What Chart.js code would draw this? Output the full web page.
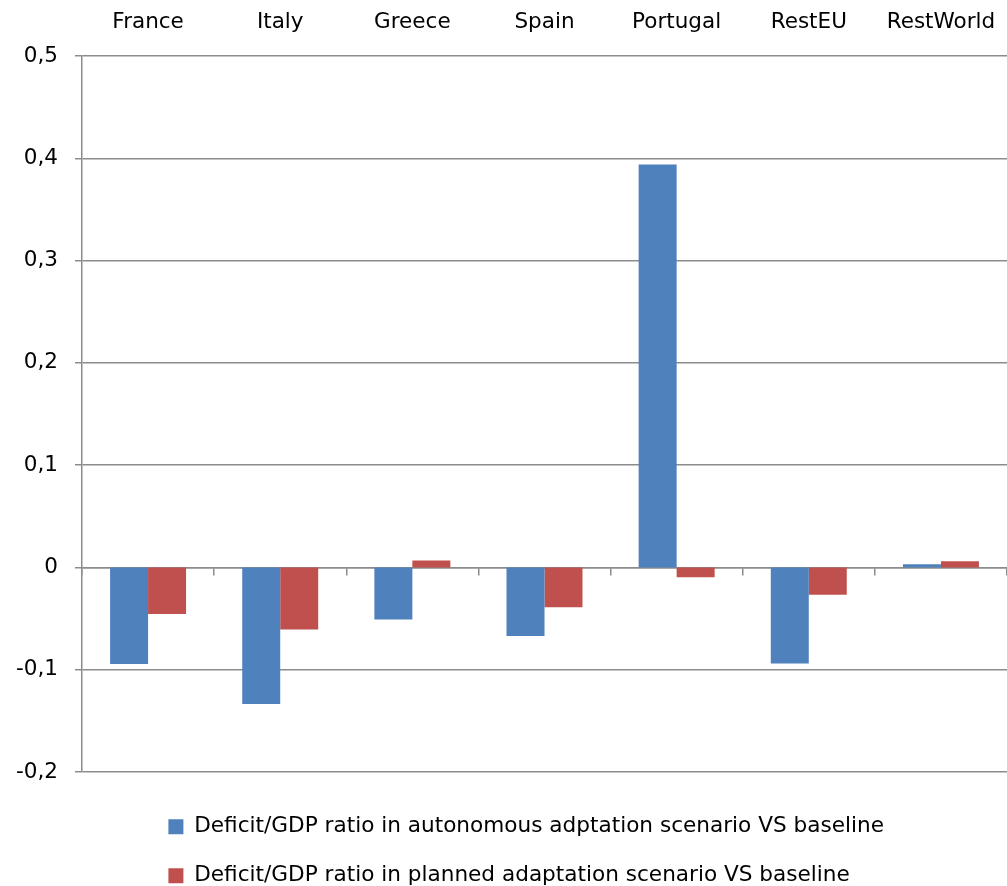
<!DOCTYPE html>
<html><head><meta charset="utf-8">
<script src="https://cdn.jsdelivr.net/npm/chart.js@4"></script>
<style>html,body{margin:0;padding:0;background:#fff}#wrap{width:1007px;height:886px;position:relative}</style>
</head><body><div id="wrap"><canvas id="c"></canvas></div>
<script>
const categories = ['France','Italy','Greece','Spain','Portugal','RestEU','RestWorld'];
const autonomous = [-0.0945,-0.1335,-0.051,-0.067,0.394,-0.094,0.003];
const planned = [-0.0455,-0.0607,0.0068,-0.039,-0.0095,-0.0267,0.006];
const seriesNames = ['Deficit/GDP ratio in autonomous adptation scenario VS baseline','Deficit/GDP ratio in planned adaptation scenario VS baseline'];
const yMin = -0.2, yMax = 0.5, yStep = 0.1;

const FONT = {family:'"DejaVu Sans", sans-serif', size:21.5};
const LFONT = {family:'"DejaVu Sans", sans-serif', size:21.6};
const GRID = '#8c8c8c';

const legendShift = {
  id:'legendShift',
  afterLayout(chart){
    const l = chart.legend; if(!l) return;
    const dx = 141 - l.left, dy = 788.5 - l.top;
    l.left += dx; l.right += dx; l.top += dy; l.bottom += dy;
  }
};

new Chart(document.getElementById('c'), {
  type:'bar',
  data:{
    labels:categories,
    datasets:[
      {label:seriesNames[0], data:autonomous, backgroundColor:'#4F81BD', categoryPercentage:0.575, barPercentage:1, xAxisID:'x', yAxisID:'y'},
      {label:seriesNames[1], data:planned, backgroundColor:'#C0504D', categoryPercentage:0.575, barPercentage:1, xAxisID:'x', yAxisID:'y'}
    ]
  },
  options:{
    responsive:true, maintainAspectRatio:false, animation:false,
    layout:{padding:{left:0, right:0, top:0, bottom:14}},
    plugins:{
      tooltip:{enabled:false},
      legend:{
        position:'bottom', align:'start', maxHeight:100,
        labels:{boxWidth:15, boxHeight:15, padding:27.4, color:'#000', font:LFONT}
      }
    },
    scales:{
      x:{type:'category', position:'top', offset:true,
         grid:{display:false, drawTicks:true, tickLength:21}, border:{display:false},
         ticks:{color:'#000', font:FONT, padding:0, maxRotation:0, autoSkip:false},
         afterFit(s){ s.height = 56; }},
      x2:{type:'category', axis:'x', position:{y:0}, offset:true,
         grid:{offset:true, drawOnChartArea:false, drawTicks:true, tickLength:7, color:GRID, lineWidth:1.5},
         border:{display:true, color:GRID, width:1.5},
         ticks:{display:false}},
      y:{min:yMin, max:yMax,
         ticks:{stepSize:yStep, color:'#000', font:FONT, padding:17,
           callback(v){ const r = Math.round(v*10)/10; return r === 0 ? '0' : String(r).replace('.', ','); }},
         grid:{color:GRID, lineWidth:1.5, tickLength:7},
         border:{color:GRID, width:1.5},
         afterFit(s){ s.width = 82; }}
    }
  },
  plugins:[legendShift]
});
</script></body></html>
